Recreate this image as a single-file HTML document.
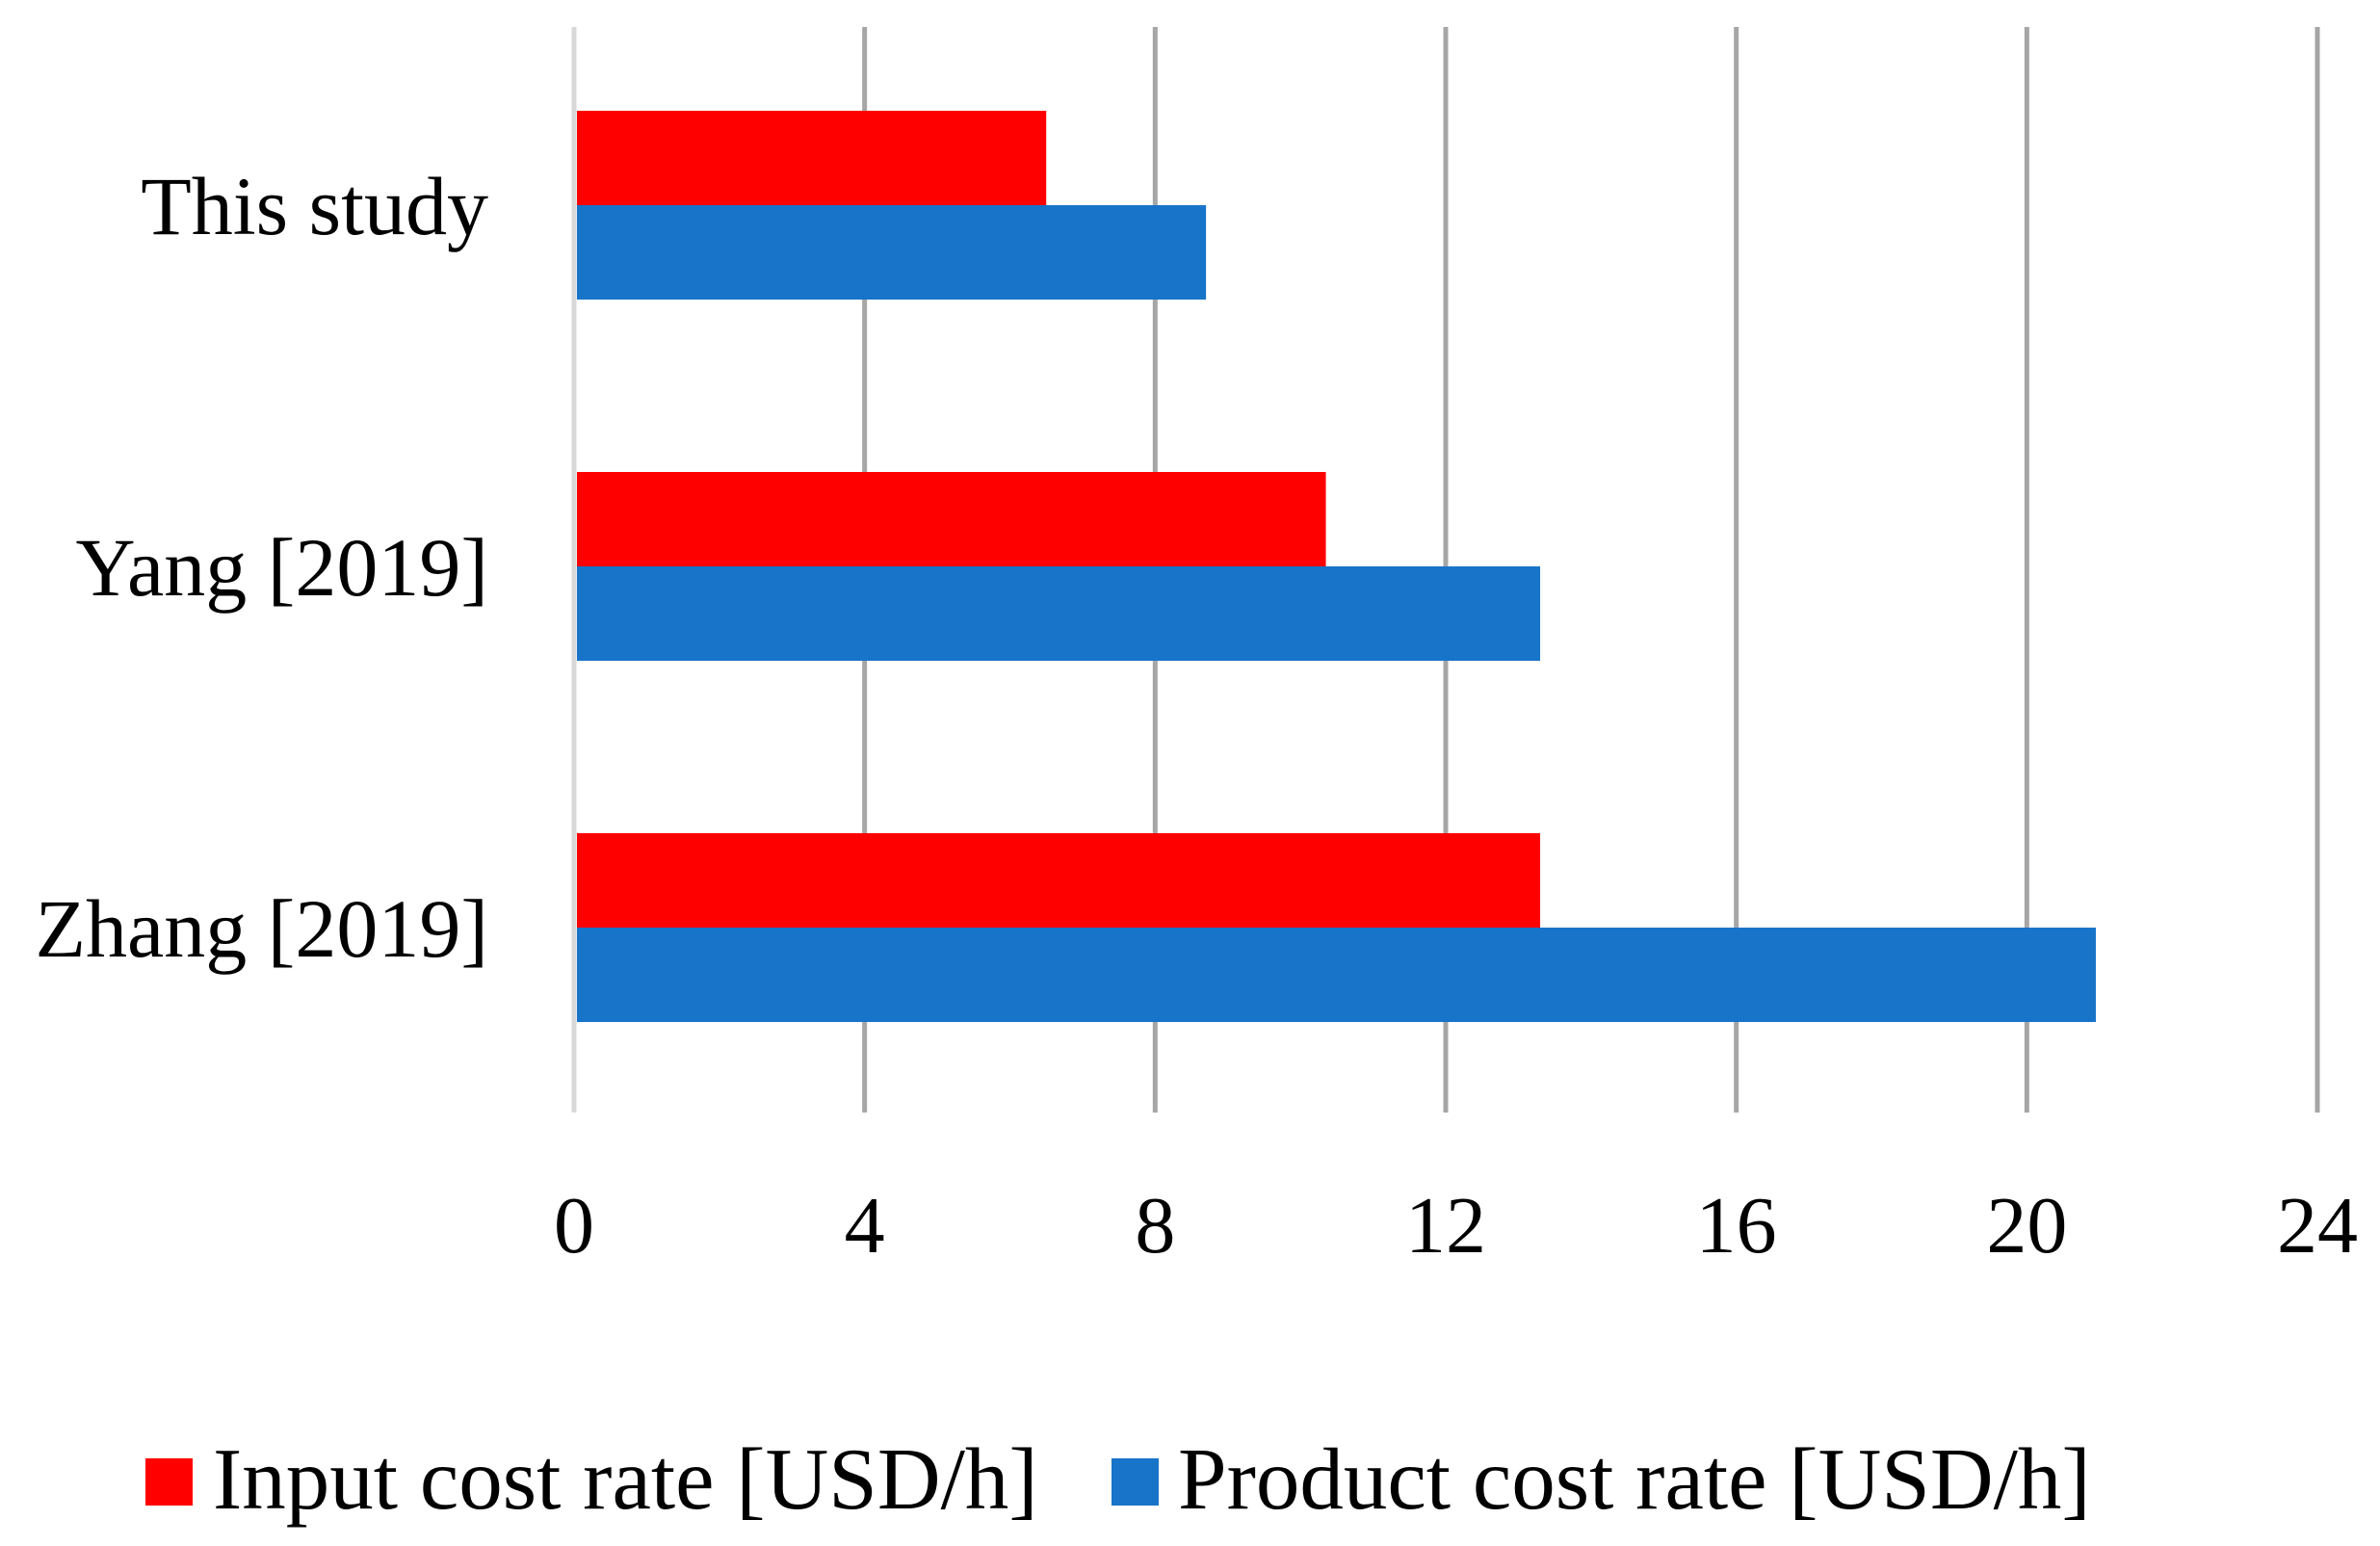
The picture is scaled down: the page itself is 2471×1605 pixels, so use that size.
<!DOCTYPE html>
<html><head><meta charset="utf-8"><style>
body{margin:0;background:#fff;}
svg{display:block;font-family:"Liberation Serif",serif;}
</style></head><body>
<svg id="chart" width="2471" height="1605" viewBox="0 0 2471 1605" xmlns="http://www.w3.org/2000/svg">
<g id="grid"></g>
<g id="bars"></g>
<g id="xt"></g>
<g id="yt"></g>
<g>
<rect x="151" y="1514" width="49" height="49" fill="#ff0000"/>
<text x="221" y="1566" font-size="91">Input cost rate [USD/h]</text>
<rect x="1154" y="1514" width="49" height="49" fill="#1874c9"/>
<text x="1223" y="1566" font-size="91">Product cost rate [USD/h]</text>
</g>
</svg>
<script>
const categories = ["This study", "Yang [2019]", "Zhang [2019]"];
const inputCost = [6.5, 10.35, 13.3];
const productCost = [8.7, 13.3, 20.95];
const ticks = [0, 4, 8, 12, 16, 20, 24];

const NS = "http://www.w3.org/2000/svg";
const x0 = 596, x1 = 2406, xmax = 24, plotTop = 28, plotBottom = 1155;
const xs = v => x0 + (x1 - x0) * v / xmax;
const groupTop = i => 115 + i * 375;
const barH = 98;
function mk(tag, attrs, parent) {
  const e = document.createElementNS(NS, tag);
  for (const k in attrs) e.setAttribute(k, attrs[k]);
  parent.appendChild(e);
  return e;
}
const grid = document.getElementById('grid');
const xt = document.getElementById('xt');
ticks.forEach(t => {
  const l = mk('line', {x1: xs(t), x2: xs(t), y1: plotTop, y2: plotBottom, stroke: t === 0 ? '#d9d9d9' : '#a6a6a6', 'stroke-width': 5}, grid);
  
  
  const tx = mk('text', {x: xs(t), y: 1300, 'font-size': 84, 'text-anchor': 'middle'}, xt);
  tx.textContent = t;
  
  
});
const bars = document.getElementById('bars');
const yt = document.getElementById('yt');
categories.forEach((c, i) => {
  const gt = groupTop(i);
  const r = mk('rect', {x: xs(0) + 3, y: gt, width: xs(inputCost[i]) - xs(0) - 3, height: barH, fill: '#ff0000'}, bars);
  
  
  const b = mk('rect', {x: xs(0) + 3, y: gt + barH, width: xs(productCost[i]) - xs(0) - 3, height: barH, fill: '#1874c9'}, bars);
  
  
  const t = mk('text', {x: 507, y: gt + barH + 30, 'font-size': 86, 'text-anchor': 'end'}, yt);
  t.textContent = c;
  
  
});
</script>
</body></html>
